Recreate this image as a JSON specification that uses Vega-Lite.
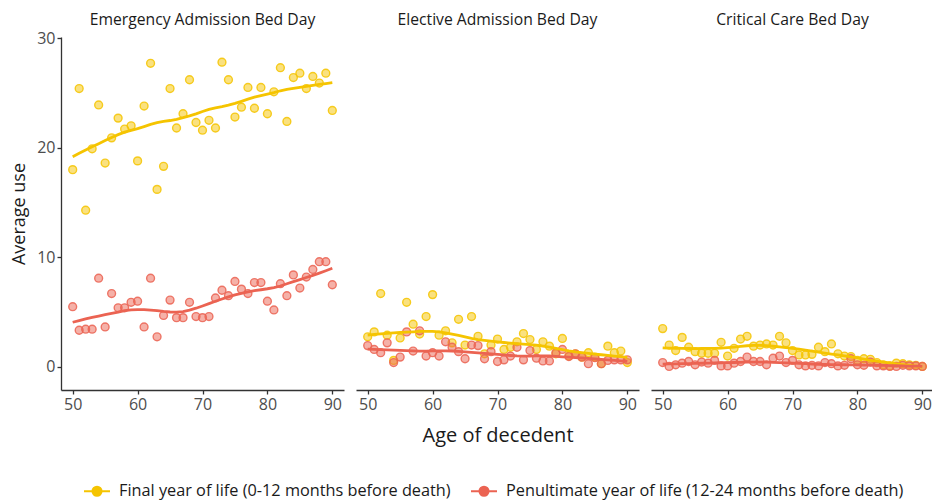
{
  "$schema": "https://vega.github.io/schema/vega-lite/v6.json",
  "background": "white",
  "padding": {"left": 10, "top": 12, "right": 0, "bottom": 0},
  "config": {
    "font": "Open Sans",
    "view": {"stroke": null},
    "axis": {"grid": false, "domainColor": "#333333", "domainWidth": 1.3, "tickColor": "#333333", "tickWidth": 1.3, "tickSize": 4, "labelColor": "#4D4D4D", "labelFontSize": 16, "titleFontSize": 18, "titleFontWeight": "normal", "titleColor": "#1a1a1a"},
    "header": {"labelFontSize": 15.7, "labelColor": "#1a1a1a", "titleFontSize": 20, "titleFontWeight": "normal", "titleColor": "#1a1a1a"},
    "legend": {"labelFontSize": 16.3, "labelColor": "#1a1a1a", "labelLimit": 0}
  },
  "data": {"values": [
    {"panel":"Emergency Admission Bed Day","series":"Final","age":50,"value":18.0},
    {"panel":"Emergency Admission Bed Day","series":"Final","age":51,"value":25.4},
    {"panel":"Emergency Admission Bed Day","series":"Final","age":52,"value":14.3},
    {"panel":"Emergency Admission Bed Day","series":"Final","age":53,"value":19.9},
    {"panel":"Emergency Admission Bed Day","series":"Final","age":54,"value":23.9},
    {"panel":"Emergency Admission Bed Day","series":"Final","age":55,"value":18.6},
    {"panel":"Emergency Admission Bed Day","series":"Final","age":56,"value":20.9},
    {"panel":"Emergency Admission Bed Day","series":"Final","age":57,"value":22.7},
    {"panel":"Emergency Admission Bed Day","series":"Final","age":58,"value":21.7},
    {"panel":"Emergency Admission Bed Day","series":"Final","age":59,"value":22.0},
    {"panel":"Emergency Admission Bed Day","series":"Final","age":60,"value":18.8},
    {"panel":"Emergency Admission Bed Day","series":"Final","age":61,"value":23.8},
    {"panel":"Emergency Admission Bed Day","series":"Final","age":62,"value":27.7},
    {"panel":"Emergency Admission Bed Day","series":"Final","age":63,"value":16.2},
    {"panel":"Emergency Admission Bed Day","series":"Final","age":64,"value":18.3},
    {"panel":"Emergency Admission Bed Day","series":"Final","age":65,"value":25.4},
    {"panel":"Emergency Admission Bed Day","series":"Final","age":66,"value":21.8},
    {"panel":"Emergency Admission Bed Day","series":"Final","age":67,"value":23.1},
    {"panel":"Emergency Admission Bed Day","series":"Final","age":68,"value":26.2},
    {"panel":"Emergency Admission Bed Day","series":"Final","age":69,"value":22.3},
    {"panel":"Emergency Admission Bed Day","series":"Final","age":70,"value":21.6},
    {"panel":"Emergency Admission Bed Day","series":"Final","age":71,"value":22.5},
    {"panel":"Emergency Admission Bed Day","series":"Final","age":72,"value":21.8},
    {"panel":"Emergency Admission Bed Day","series":"Final","age":73,"value":27.8},
    {"panel":"Emergency Admission Bed Day","series":"Final","age":74,"value":26.2},
    {"panel":"Emergency Admission Bed Day","series":"Final","age":75,"value":22.8},
    {"panel":"Emergency Admission Bed Day","series":"Final","age":76,"value":23.7},
    {"panel":"Emergency Admission Bed Day","series":"Final","age":77,"value":25.5},
    {"panel":"Emergency Admission Bed Day","series":"Final","age":78,"value":23.6},
    {"panel":"Emergency Admission Bed Day","series":"Final","age":79,"value":25.5},
    {"panel":"Emergency Admission Bed Day","series":"Final","age":80,"value":23.1},
    {"panel":"Emergency Admission Bed Day","series":"Final","age":81,"value":25.1},
    {"panel":"Emergency Admission Bed Day","series":"Final","age":82,"value":27.3},
    {"panel":"Emergency Admission Bed Day","series":"Final","age":83,"value":22.4},
    {"panel":"Emergency Admission Bed Day","series":"Final","age":84,"value":26.4},
    {"panel":"Emergency Admission Bed Day","series":"Final","age":85,"value":26.8},
    {"panel":"Emergency Admission Bed Day","series":"Final","age":86,"value":25.4},
    {"panel":"Emergency Admission Bed Day","series":"Final","age":87,"value":26.5},
    {"panel":"Emergency Admission Bed Day","series":"Final","age":88,"value":25.9},
    {"panel":"Emergency Admission Bed Day","series":"Final","age":89,"value":26.8},
    {"panel":"Emergency Admission Bed Day","series":"Final","age":90,"value":23.4},
    {"panel":"Emergency Admission Bed Day","series":"Penultimate","age":50,"value":5.5},
    {"panel":"Emergency Admission Bed Day","series":"Penultimate","age":51,"value":3.35},
    {"panel":"Emergency Admission Bed Day","series":"Penultimate","age":52,"value":3.45},
    {"panel":"Emergency Admission Bed Day","series":"Penultimate","age":53,"value":3.45},
    {"panel":"Emergency Admission Bed Day","series":"Penultimate","age":54,"value":8.1},
    {"panel":"Emergency Admission Bed Day","series":"Penultimate","age":55,"value":3.65},
    {"panel":"Emergency Admission Bed Day","series":"Penultimate","age":56,"value":6.7},
    {"panel":"Emergency Admission Bed Day","series":"Penultimate","age":57,"value":5.4},
    {"panel":"Emergency Admission Bed Day","series":"Penultimate","age":58,"value":5.4},
    {"panel":"Emergency Admission Bed Day","series":"Penultimate","age":59,"value":5.9},
    {"panel":"Emergency Admission Bed Day","series":"Penultimate","age":60,"value":6.0},
    {"panel":"Emergency Admission Bed Day","series":"Penultimate","age":61,"value":3.65},
    {"panel":"Emergency Admission Bed Day","series":"Penultimate","age":62,"value":8.1},
    {"panel":"Emergency Admission Bed Day","series":"Penultimate","age":63,"value":2.75},
    {"panel":"Emergency Admission Bed Day","series":"Penultimate","age":64,"value":4.7},
    {"panel":"Emergency Admission Bed Day","series":"Penultimate","age":65,"value":6.1},
    {"panel":"Emergency Admission Bed Day","series":"Penultimate","age":66,"value":4.5},
    {"panel":"Emergency Admission Bed Day","series":"Penultimate","age":67,"value":4.5},
    {"panel":"Emergency Admission Bed Day","series":"Penultimate","age":68,"value":5.9},
    {"panel":"Emergency Admission Bed Day","series":"Penultimate","age":69,"value":4.6},
    {"panel":"Emergency Admission Bed Day","series":"Penultimate","age":70,"value":4.5},
    {"panel":"Emergency Admission Bed Day","series":"Penultimate","age":71,"value":4.6},
    {"panel":"Emergency Admission Bed Day","series":"Penultimate","age":72,"value":6.3},
    {"panel":"Emergency Admission Bed Day","series":"Penultimate","age":73,"value":7.0},
    {"panel":"Emergency Admission Bed Day","series":"Penultimate","age":74,"value":6.5},
    {"panel":"Emergency Admission Bed Day","series":"Penultimate","age":75,"value":7.8},
    {"panel":"Emergency Admission Bed Day","series":"Penultimate","age":76,"value":7.1},
    {"panel":"Emergency Admission Bed Day","series":"Penultimate","age":77,"value":6.7},
    {"panel":"Emergency Admission Bed Day","series":"Penultimate","age":78,"value":7.7},
    {"panel":"Emergency Admission Bed Day","series":"Penultimate","age":79,"value":7.7},
    {"panel":"Emergency Admission Bed Day","series":"Penultimate","age":80,"value":6.0},
    {"panel":"Emergency Admission Bed Day","series":"Penultimate","age":81,"value":5.2},
    {"panel":"Emergency Admission Bed Day","series":"Penultimate","age":82,"value":7.6},
    {"panel":"Emergency Admission Bed Day","series":"Penultimate","age":83,"value":6.5},
    {"panel":"Emergency Admission Bed Day","series":"Penultimate","age":84,"value":8.4},
    {"panel":"Emergency Admission Bed Day","series":"Penultimate","age":85,"value":7.2},
    {"panel":"Emergency Admission Bed Day","series":"Penultimate","age":86,"value":8.2},
    {"panel":"Emergency Admission Bed Day","series":"Penultimate","age":87,"value":8.9},
    {"panel":"Emergency Admission Bed Day","series":"Penultimate","age":88,"value":9.6},
    {"panel":"Emergency Admission Bed Day","series":"Penultimate","age":89,"value":9.6},
    {"panel":"Emergency Admission Bed Day","series":"Penultimate","age":90,"value":7.5},
    {"panel":"Elective Admission Bed Day","series":"Final","age":50,"value":2.75},
    {"panel":"Elective Admission Bed Day","series":"Final","age":51,"value":3.2},
    {"panel":"Elective Admission Bed Day","series":"Final","age":52,"value":6.7},
    {"panel":"Elective Admission Bed Day","series":"Final","age":53,"value":2.9},
    {"panel":"Elective Admission Bed Day","series":"Final","age":54,"value":0.6},
    {"panel":"Elective Admission Bed Day","series":"Final","age":55,"value":2.65},
    {"panel":"Elective Admission Bed Day","series":"Final","age":56,"value":5.9},
    {"panel":"Elective Admission Bed Day","series":"Final","age":57,"value":3.9},
    {"panel":"Elective Admission Bed Day","series":"Final","age":58,"value":3.0},
    {"panel":"Elective Admission Bed Day","series":"Final","age":59,"value":4.6},
    {"panel":"Elective Admission Bed Day","series":"Final","age":60,"value":6.6},
    {"panel":"Elective Admission Bed Day","series":"Final","age":61,"value":2.9},
    {"panel":"Elective Admission Bed Day","series":"Final","age":62,"value":3.3},
    {"panel":"Elective Admission Bed Day","series":"Final","age":63,"value":2.2},
    {"panel":"Elective Admission Bed Day","series":"Final","age":64,"value":4.35},
    {"panel":"Elective Admission Bed Day","series":"Final","age":65,"value":2.0},
    {"panel":"Elective Admission Bed Day","series":"Final","age":66,"value":4.6},
    {"panel":"Elective Admission Bed Day","series":"Final","age":67,"value":2.8},
    {"panel":"Elective Admission Bed Day","series":"Final","age":68,"value":1.2},
    {"panel":"Elective Admission Bed Day","series":"Final","age":69,"value":2.0},
    {"panel":"Elective Admission Bed Day","series":"Final","age":70,"value":2.55},
    {"panel":"Elective Admission Bed Day","series":"Final","age":71,"value":1.6},
    {"panel":"Elective Admission Bed Day","series":"Final","age":72,"value":1.8},
    {"panel":"Elective Admission Bed Day","series":"Final","age":73,"value":2.3},
    {"panel":"Elective Admission Bed Day","series":"Final","age":74,"value":3.05},
    {"panel":"Elective Admission Bed Day","series":"Final","age":75,"value":2.5},
    {"panel":"Elective Admission Bed Day","series":"Final","age":76,"value":1.6},
    {"panel":"Elective Admission Bed Day","series":"Final","age":77,"value":2.3},
    {"panel":"Elective Admission Bed Day","series":"Final","age":78,"value":1.9},
    {"panel":"Elective Admission Bed Day","series":"Final","age":79,"value":1.2},
    {"panel":"Elective Admission Bed Day","series":"Final","age":80,"value":2.6},
    {"panel":"Elective Admission Bed Day","series":"Final","age":81,"value":1.0},
    {"panel":"Elective Admission Bed Day","series":"Final","age":82,"value":1.2},
    {"panel":"Elective Admission Bed Day","series":"Final","age":83,"value":0.9},
    {"panel":"Elective Admission Bed Day","series":"Final","age":84,"value":1.3},
    {"panel":"Elective Admission Bed Day","series":"Final","age":85,"value":0.9},
    {"panel":"Elective Admission Bed Day","series":"Final","age":86,"value":0.3},
    {"panel":"Elective Admission Bed Day","series":"Final","age":87,"value":1.9},
    {"panel":"Elective Admission Bed Day","series":"Final","age":88,"value":1.3},
    {"panel":"Elective Admission Bed Day","series":"Final","age":89,"value":1.45},
    {"panel":"Elective Admission Bed Day","series":"Final","age":90,"value":0.4},
    {"panel":"Elective Admission Bed Day","series":"Penultimate","age":50,"value":1.95},
    {"panel":"Elective Admission Bed Day","series":"Penultimate","age":51,"value":1.6},
    {"panel":"Elective Admission Bed Day","series":"Penultimate","age":52,"value":1.3},
    {"panel":"Elective Admission Bed Day","series":"Penultimate","age":53,"value":2.2},
    {"panel":"Elective Admission Bed Day","series":"Penultimate","age":54,"value":0.4},
    {"panel":"Elective Admission Bed Day","series":"Penultimate","age":55,"value":0.9},
    {"panel":"Elective Admission Bed Day","series":"Penultimate","age":56,"value":3.2},
    {"panel":"Elective Admission Bed Day","series":"Penultimate","age":57,"value":1.45},
    {"panel":"Elective Admission Bed Day","series":"Penultimate","age":58,"value":3.3},
    {"panel":"Elective Admission Bed Day","series":"Penultimate","age":59,"value":1.0},
    {"panel":"Elective Admission Bed Day","series":"Penultimate","age":60,"value":1.3},
    {"panel":"Elective Admission Bed Day","series":"Penultimate","age":61,"value":1.0},
    {"panel":"Elective Admission Bed Day","series":"Penultimate","age":62,"value":2.3},
    {"panel":"Elective Admission Bed Day","series":"Penultimate","age":63,"value":1.8},
    {"panel":"Elective Admission Bed Day","series":"Penultimate","age":64,"value":1.4},
    {"panel":"Elective Admission Bed Day","series":"Penultimate","age":65,"value":0.75},
    {"panel":"Elective Admission Bed Day","series":"Penultimate","age":66,"value":2.0},
    {"panel":"Elective Admission Bed Day","series":"Penultimate","age":67,"value":1.95},
    {"panel":"Elective Admission Bed Day","series":"Penultimate","age":68,"value":0.75},
    {"panel":"Elective Admission Bed Day","series":"Penultimate","age":69,"value":1.4},
    {"panel":"Elective Admission Bed Day","series":"Penultimate","age":70,"value":0.5},
    {"panel":"Elective Admission Bed Day","series":"Penultimate","age":71,"value":0.65},
    {"panel":"Elective Admission Bed Day","series":"Penultimate","age":72,"value":1.0},
    {"panel":"Elective Admission Bed Day","series":"Penultimate","age":73,"value":1.8},
    {"panel":"Elective Admission Bed Day","series":"Penultimate","age":74,"value":0.65},
    {"panel":"Elective Admission Bed Day","series":"Penultimate","age":75,"value":1.5},
    {"panel":"Elective Admission Bed Day","series":"Penultimate","age":76,"value":0.8},
    {"panel":"Elective Admission Bed Day","series":"Penultimate","age":77,"value":0.55},
    {"panel":"Elective Admission Bed Day","series":"Penultimate","age":78,"value":0.55},
    {"panel":"Elective Admission Bed Day","series":"Penultimate","age":79,"value":1.3},
    {"panel":"Elective Admission Bed Day","series":"Penultimate","age":80,"value":1.6},
    {"panel":"Elective Admission Bed Day","series":"Penultimate","age":81,"value":0.95},
    {"panel":"Elective Admission Bed Day","series":"Penultimate","age":82,"value":1.2},
    {"panel":"Elective Admission Bed Day","series":"Penultimate","age":83,"value":0.9},
    {"panel":"Elective Admission Bed Day","series":"Penultimate","age":84,"value":0.3},
    {"panel":"Elective Admission Bed Day","series":"Penultimate","age":85,"value":0.85},
    {"panel":"Elective Admission Bed Day","series":"Penultimate","age":86,"value":0.3},
    {"panel":"Elective Admission Bed Day","series":"Penultimate","age":87,"value":0.6},
    {"panel":"Elective Admission Bed Day","series":"Penultimate","age":88,"value":0.65},
    {"panel":"Elective Admission Bed Day","series":"Penultimate","age":89,"value":0.65},
    {"panel":"Elective Admission Bed Day","series":"Penultimate","age":90,"value":0.65},
    {"panel":"Critical Care Bed Day","series":"Final","age":50,"value":3.5},
    {"panel":"Critical Care Bed Day","series":"Final","age":51,"value":2.0},
    {"panel":"Critical Care Bed Day","series":"Final","age":52,"value":1.5},
    {"panel":"Critical Care Bed Day","series":"Final","age":53,"value":2.7},
    {"panel":"Critical Care Bed Day","series":"Final","age":54,"value":1.8},
    {"panel":"Critical Care Bed Day","series":"Final","age":55,"value":1.4},
    {"panel":"Critical Care Bed Day","series":"Final","age":56,"value":1.25},
    {"panel":"Critical Care Bed Day","series":"Final","age":57,"value":1.25},
    {"panel":"Critical Care Bed Day","series":"Final","age":58,"value":1.25},
    {"panel":"Critical Care Bed Day","series":"Final","age":59,"value":2.25},
    {"panel":"Critical Care Bed Day","series":"Final","age":60,"value":1.0},
    {"panel":"Critical Care Bed Day","series":"Final","age":61,"value":1.7},
    {"panel":"Critical Care Bed Day","series":"Final","age":62,"value":2.55},
    {"panel":"Critical Care Bed Day","series":"Final","age":63,"value":2.8},
    {"panel":"Critical Care Bed Day","series":"Final","age":64,"value":1.9},
    {"panel":"Critical Care Bed Day","series":"Final","age":65,"value":2.0},
    {"panel":"Critical Care Bed Day","series":"Final","age":66,"value":2.1},
    {"panel":"Critical Care Bed Day","series":"Final","age":67,"value":2.0},
    {"panel":"Critical Care Bed Day","series":"Final","age":68,"value":2.8},
    {"panel":"Critical Care Bed Day","series":"Final","age":69,"value":2.2},
    {"panel":"Critical Care Bed Day","series":"Final","age":70,"value":1.5},
    {"panel":"Critical Care Bed Day","series":"Final","age":71,"value":1.1},
    {"panel":"Critical Care Bed Day","series":"Final","age":72,"value":1.1},
    {"panel":"Critical Care Bed Day","series":"Final","age":73,"value":1.15},
    {"panel":"Critical Care Bed Day","series":"Final","age":74,"value":1.8},
    {"panel":"Critical Care Bed Day","series":"Final","age":75,"value":1.4},
    {"panel":"Critical Care Bed Day","series":"Final","age":76,"value":2.1},
    {"panel":"Critical Care Bed Day","series":"Final","age":77,"value":1.2},
    {"panel":"Critical Care Bed Day","series":"Final","age":78,"value":1.0},
    {"panel":"Critical Care Bed Day","series":"Final","age":79,"value":0.95},
    {"panel":"Critical Care Bed Day","series":"Final","age":80,"value":0.6},
    {"panel":"Critical Care Bed Day","series":"Final","age":81,"value":0.75},
    {"panel":"Critical Care Bed Day","series":"Final","age":82,"value":0.7},
    {"panel":"Critical Care Bed Day","series":"Final","age":83,"value":0.4},
    {"panel":"Critical Care Bed Day","series":"Final","age":84,"value":0.2},
    {"panel":"Critical Care Bed Day","series":"Final","age":85,"value":0.1},
    {"panel":"Critical Care Bed Day","series":"Final","age":86,"value":0.35},
    {"panel":"Critical Care Bed Day","series":"Final","age":87,"value":0.3},
    {"panel":"Critical Care Bed Day","series":"Final","age":88,"value":0.2},
    {"panel":"Critical Care Bed Day","series":"Final","age":89,"value":0.15},
    {"panel":"Critical Care Bed Day","series":"Final","age":90,"value":0.05},
    {"panel":"Critical Care Bed Day","series":"Penultimate","age":50,"value":0.4},
    {"panel":"Critical Care Bed Day","series":"Penultimate","age":51,"value":0.05},
    {"panel":"Critical Care Bed Day","series":"Penultimate","age":52,"value":0.2},
    {"panel":"Critical Care Bed Day","series":"Penultimate","age":53,"value":0.35},
    {"panel":"Critical Care Bed Day","series":"Penultimate","age":54,"value":0.5},
    {"panel":"Critical Care Bed Day","series":"Penultimate","age":55,"value":0.2},
    {"panel":"Critical Care Bed Day","series":"Penultimate","age":56,"value":0.45},
    {"panel":"Critical Care Bed Day","series":"Penultimate","age":57,"value":0.35},
    {"panel":"Critical Care Bed Day","series":"Penultimate","age":58,"value":0.6},
    {"panel":"Critical Care Bed Day","series":"Penultimate","age":59,"value":0.1},
    {"panel":"Critical Care Bed Day","series":"Penultimate","age":60,"value":0.1},
    {"panel":"Critical Care Bed Day","series":"Penultimate","age":61,"value":0.35},
    {"panel":"Critical Care Bed Day","series":"Penultimate","age":62,"value":0.5},
    {"panel":"Critical Care Bed Day","series":"Penultimate","age":63,"value":0.9},
    {"panel":"Critical Care Bed Day","series":"Penultimate","age":64,"value":0.5},
    {"panel":"Critical Care Bed Day","series":"Penultimate","age":65,"value":0.5},
    {"panel":"Critical Care Bed Day","series":"Penultimate","age":66,"value":0.2},
    {"panel":"Critical Care Bed Day","series":"Penultimate","age":67,"value":0.8},
    {"panel":"Critical Care Bed Day","series":"Penultimate","age":68,"value":1.0},
    {"panel":"Critical Care Bed Day","series":"Penultimate","age":69,"value":0.4},
    {"panel":"Critical Care Bed Day","series":"Penultimate","age":70,"value":0.6},
    {"panel":"Critical Care Bed Day","series":"Penultimate","age":71,"value":0.2},
    {"panel":"Critical Care Bed Day","series":"Penultimate","age":72,"value":0.1},
    {"panel":"Critical Care Bed Day","series":"Penultimate","age":73,"value":0.15},
    {"panel":"Critical Care Bed Day","series":"Penultimate","age":74,"value":0.1},
    {"panel":"Critical Care Bed Day","series":"Penultimate","age":75,"value":0.4},
    {"panel":"Critical Care Bed Day","series":"Penultimate","age":76,"value":0.3},
    {"panel":"Critical Care Bed Day","series":"Penultimate","age":77,"value":0.1},
    {"panel":"Critical Care Bed Day","series":"Penultimate","age":78,"value":0.15},
    {"panel":"Critical Care Bed Day","series":"Penultimate","age":79,"value":0.75},
    {"panel":"Critical Care Bed Day","series":"Penultimate","age":80,"value":0.2},
    {"panel":"Critical Care Bed Day","series":"Penultimate","age":81,"value":0.15},
    {"panel":"Critical Care Bed Day","series":"Penultimate","age":82,"value":0.45},
    {"panel":"Critical Care Bed Day","series":"Penultimate","age":83,"value":0.1},
    {"panel":"Critical Care Bed Day","series":"Penultimate","age":84,"value":0.1},
    {"panel":"Critical Care Bed Day","series":"Penultimate","age":85,"value":0.05},
    {"panel":"Critical Care Bed Day","series":"Penultimate","age":86,"value":0.05},
    {"panel":"Critical Care Bed Day","series":"Penultimate","age":87,"value":0.15},
    {"panel":"Critical Care Bed Day","series":"Penultimate","age":88,"value":0.1},
    {"panel":"Critical Care Bed Day","series":"Penultimate","age":89,"value":0.1},
    {"panel":"Critical Care Bed Day","series":"Penultimate","age":90,"value":0.05}
  ]},
  "facet": {
    "column": {
      "field": "panel",
      "type": "nominal",
      "sort": ["Emergency Admission Bed Day", "Elective Admission Bed Day", "Critical Care Bed Day"],
      "title": "Age of decedent",
      "header": {"labelPadding": 8, "labelOrient": "top", "titleOrient": "bottom", "titlePadding": 4}
    }
  },
  "spacing": {"column": 12},
  "spec": {
    "width": 283,
    "height": 353,
    "layer": [
      {
        "mark": {"type": "point", "filled": true, "size": 62, "fillOpacity": 0.5, "strokeWidth": 1.4, "strokeOpacity": 0.85},
        "encoding": {
          "x": {"field": "age", "type": "quantitative", "scale": {"domain": [48.2, 91.8], "nice": false, "zero": false}, "axis": {"values": [50, 60, 70, 80, 90], "title": null}},
          "y": {"field": "value", "type": "quantitative", "scale": {"domain": [-2.1, 30.1], "nice": false}, "axis": {"values": [0, 10, 20, 30], "title": "Average use", "titlePadding": 8}},
          "color": {"field": "series", "type": "nominal", "scale": {"domain": ["Final", "Penultimate"], "range": ["#F5C400", "#EB6352"]},
            "legend": {"orient": "none", "legendX": 22, "legendY": 440, "direction": "horizontal", "title": null,
              "symbolType": "M-1,0L-0.35,0M0.35,0L1,0M-0.35,0A0.35,0.35 0 1,1 0.35,0A0.35,0.35 0 1,1 -0.35,0Z",
              "symbolSize": 676, "symbolStrokeWidth": 2, "symbolOpacity": 1, "columnPadding": 16, "labelOffset": 8,
              "labelExpr": "datum.label == 'Final' ? 'Final year of life (0-12 months before death)' : 'Penultimate year of life (12-24 months before death)'"}},
          "stroke": {"field": "series", "type": "nominal", "scale": {"domain": ["Final", "Penultimate"], "range": ["#F5C400", "#EB6352"]}, "legend": null}
        }
      },
      {
        "transform": [{"loess": "value", "on": "age", "groupby": ["panel", "series"], "bandwidth": 0.45}],
        "mark": {"type": "line", "strokeWidth": 2.8},
        "encoding": {
          "x": {"field": "age", "type": "quantitative"},
          "y": {"field": "value", "type": "quantitative"},
          "color": {"field": "series", "type": "nominal"}
        }
      }
    ]
  }
}
